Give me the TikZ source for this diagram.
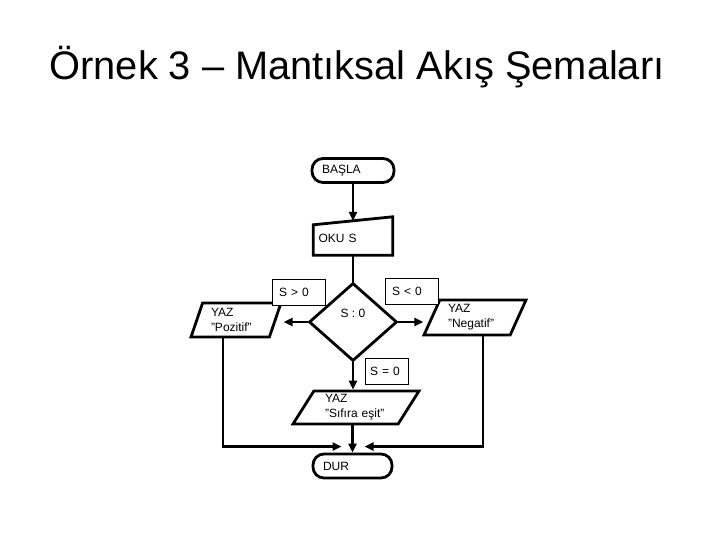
\documentclass[tikz,border=0pt]{standalone}
\usepackage{fontspec}
\setmainfont{Liberation Sans}
\usetikzlibrary{arrows.meta,positioning,calc,shapes.geometric}

\begin{document}
\begin{tikzpicture}[
  x=1pt, y=-1pt,
  font=\fontsize{12}{15}\selectfont,
  term/.style={draw, line width=2.8pt, rounded corners=11pt, minimum height=24pt, inner xsep=10pt, text width=62pt, align=left},
  para/.style={trapezium, trapezium stretches body, draw, line width=2.8pt, inner xsep=0pt, inner ysep=2pt, align=left},
  cond/.style={draw, line width=0.8pt, fill=white, minimum height=26pt, inner xsep=7pt, text width=39pt, align=left},
  line/.style={line width=2.8pt},
  arr/.style={-{Triangle[length=9pt,width=8pt]}, line width=2.8pt}
]
\useasboundingbox (0,0) rectangle (720,540);
\node[font=\fontsize{39.8}{42}\selectfont, anchor=base] (title) at (357,80) {Örnek 3 – Mantıksal Akış Şemaları};

\node[term] (start) at (353,170.5) {BAŞLA};
\node[minimum width=79pt, minimum height=34pt, inner xsep=5pt, text width=69pt, align=left] (oku) at (353,238) {OKU S};
\draw[line] (oku.south west) -- (oku.south east) -- ($(oku.north east)+(0,-4)$) -- ($(oku.north west)+(0,4)$) -- cycle;
\node[diamond, draw, line width=2.8pt, minimum width=88pt, minimum height=78pt, inner sep=0pt,
  label={[yshift=9pt]center:S : 0}] (dec) at (353,322) {};
\node[para, trapezium left angle=67, trapezium right angle=113, minimum width=90pt, minimum height=34pt, text width=50pt] (pos) at (236,320) {YAZ\\"Pozitif"};
\node[para, trapezium left angle=62, trapezium right angle=118, minimum width=102pt, minimum height=35pt, text width=54pt] (neg) at (475,317.5) {YAZ\\"Negatif"};
\node[para, trapezium left angle=55, trapezium right angle=125, minimum width=126pt, minimum height=33pt, text width=62pt] (sif) at (356,407.5) {YAZ\\"Sıfıra eşit"};
\node[term, text width=59pt] (dur) at (352.5,466) {DUR};

\draw[arr] (start.south) -- (start.south |- oku.north);
\draw[line] (oku.south) -- (dec.north);
\draw[arr, shorten >=7pt] (dec.west) -- (dec.west -| pos.east);
\draw[arr, shorten >=7pt] (dec.east) -- (dec.east -| neg.west);
\draw[arr] (dec.south) -- (dec.south |- sif.north);
\draw[arr] (dur.north |- sif.south) -- (dur.north);
\coordinate (jl) at ($(dur.north)+(-11,-6)$);
\coordinate (jr) at ($(dur.north)+(12,-6)$);
\draw[arr] ([xshift=-13pt]pos.south) |- (jl);
\draw[arr] ([xshift=8pt]neg.south) |- (jr);

\node[cond] (gt) at (298.5,292) {S > 0};
\node[cond] (lt) at (411.5,291.5) {S < 0};
\node[cond, inner xsep=5pt, text width=33pt] (eq) at (386.5,371.5) {S = 0};
\end{tikzpicture}
\end{document}
